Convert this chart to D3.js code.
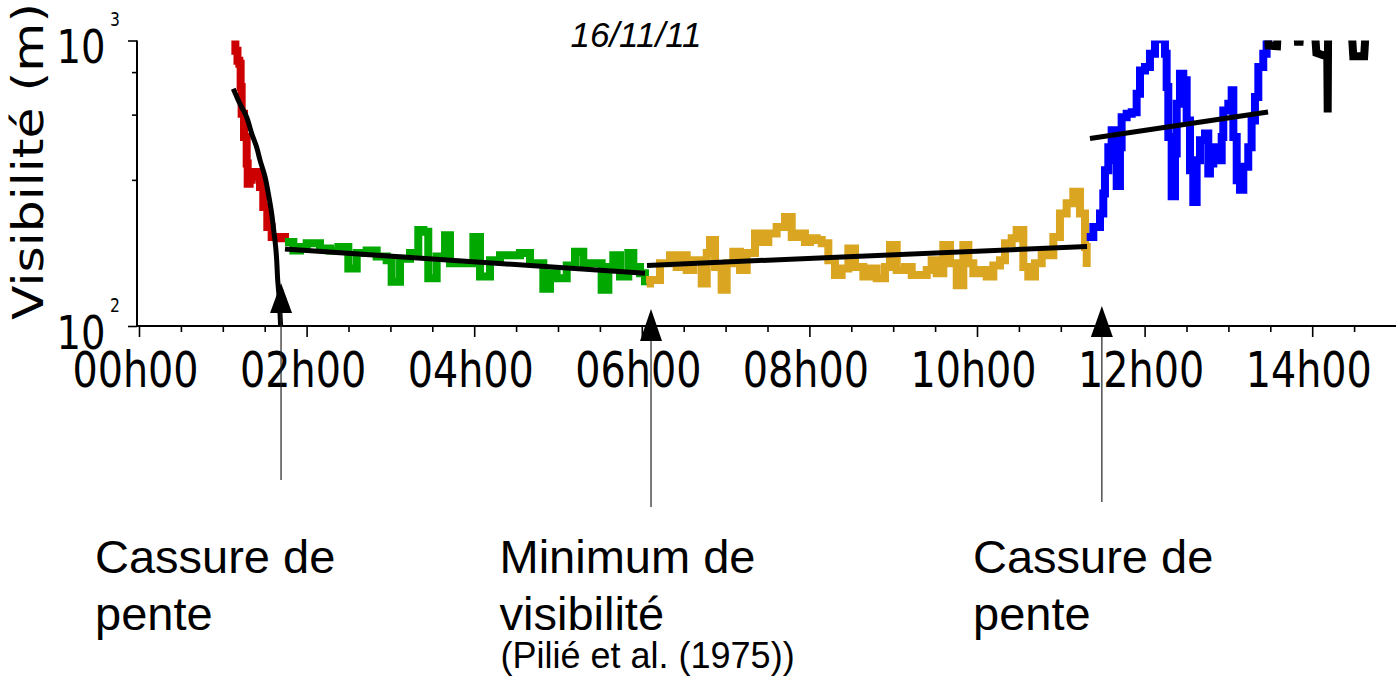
<!DOCTYPE html>
<html>
<head>
<meta charset="utf-8">
<script src="https://cdn.jsdelivr.net/npm/d3@7"></script>
<style>
  html, body { margin: 0; padding: 0; background: #fff; }
  svg { display: block; }
</style>
</head>
<body>
<svg id="chart" width="1398" height="688"></svg>
<script>
// Visibility record of 16/11/11: [time in decimal hours, visibility in metres]
const redSeries = [[1.134,1050],[1.150,920],[1.175,850],[1.197,829],[1.213,687],[1.225,554],[1.253,459],[1.285,371],[1.297,315],[1.320,325],[1.345,333],[1.380,346],[1.404,346],[1.444,307],[1.483,261],[1.531,222],[1.583,205],[1.663,203],[1.702,205],[1.742,197]];

const greenSeries = [[1.742,197],[1.842,184],[1.921,189],[2.001,195],[2.080,195],[2.160,187],[2.279,184],[2.379,189],[2.498,159],[2.598,180],[2.717,184],[2.836,175],[2.956,170],[3.015,143],[3.115,172],[3.234,180],[3.333,217],[3.393,214],[3.452,147],[3.552,175],[3.652,208],[3.711,166],[3.831,166],[3.990,205],[4.069,149],[4.189,170],[4.308,177],[4.467,177],[4.547,180],[4.666,166],[4.825,135],[4.905,153],[4.984,147],[5.104,163],[5.203,182],[5.302,166],[5.421,166],[5.521,134],[5.601,161],[5.660,177],[5.740,149],[5.839,180],[5.899,161],[5.979,153],[6.038,139]];

const goldSeries = [[6.058,141],[6.098,145],[6.217,166],[6.337,177],[6.416,161],[6.476,177],[6.536,157],[6.615,170],[6.715,141],[6.775,180],[6.814,200],[6.874,161],[6.953,134],[7.013,166],[7.092,182],[7.172,157],[7.252,180],[7.351,211],[7.431,197],[7.510,211],[7.609,222],[7.709,241],[7.789,205],[7.868,211],[7.947,197],[8.007,203],[8.087,200],[8.147,195],[8.226,170],[8.305,151],[8.385,159],[8.465,187],[8.544,161],[8.644,149],[8.723,159],[8.803,147],[8.902,161],[8.962,192],[9.042,157],[9.141,161],[9.221,151],[9.320,151],[9.400,157],[9.459,170],[9.519,153],[9.598,192],[9.678,166],[9.758,139],[9.837,192],[9.897,166],[9.956,153],[10.036,157],[10.116,149],[10.195,163],[10.274,170],[10.334,195],[10.414,203],[10.473,217],[10.553,161],[10.612,149],[10.692,166],[10.772,180],[10.851,177],[10.911,205],[10.990,248],[11.070,269],[11.149,295],[11.229,248],[11.289,189],[11.309,161]];

const blueSeries = [[11.309,205],[11.388,222],[11.468,248],[11.507,291],[11.527,351],[11.567,423],[11.607,485],[11.647,381],[11.667,309],[11.706,423],[11.726,539],[11.786,554],[11.846,561],[11.905,651],[11.945,785],[12.005,807],[12.064,898],[12.124,1010],[12.184,1010],[12.243,898],[12.263,687],[12.283,459],[12.323,285],[12.363,402],[12.383,601],[12.422,765],[12.462,725],[12.502,525],[12.542,351],[12.581,272],[12.621,381],[12.661,447],[12.721,472],[12.760,342],[12.780,371],[12.820,423],[12.860,381],[12.920,459],[12.939,569],[12.999,601],[13.039,669],[13.059,459],[13.099,324],[13.138,300],[13.178,361],[13.237,423],[13.277,525],[13.317,634],[13.357,807],[13.416,898],[13.456,973],[13.476,1010]];

// Late readings, mostly above the 1000 m ceiling of the axis
const blackSegments = [
  [[13.47,1100],[13.48,960],[13.58,955],[13.59,1100]],
  [[13.82,1100],[13.83,990],[13.85,990],[13.86,1100]],
  [[14.03,1100],[14.05,905],[14.12,890],[14.18,880],[14.185,560],[14.19,1100]],
  [[14.47,1100],[14.49,880],[14.62,880],[14.64,1100]]
];

// Fitted trends for each phase
const redFit = [[1.125,678],[1.205,600],[1.285,539],[1.345,472],[1.404,423],[1.444,381],[1.504,333],[1.543,291],[1.583,248],[1.603,222],[1.631,189],[1.643,170],[1.655,145],[1.671,127],[1.690,100]];
const greenFit = [[1.742,186],[6.038,153]];
const goldFit = [[6.062,163],[11.313,190]];
const blueFit = [[11.348,454],[13.473,562]];

// Axis ticks
const xMajorTicks = [0, 2, 4, 6, 8, 10, 12, 14];
const xMinorTicks = [0.5, 1, 1.5, 2.5, 3, 3.5, 4.5, 5, 5.5, 6.5, 7, 7.5, 8.5, 9, 9.5, 10.5, 11, 11.5, 12.5, 13, 13.5, 14.5];
const yMajorTicks = [100, 1000];
const yMinorTicks = [325, 550, 775];

// Marked instants (hours) and their captions
const markTimes = [1.695, 6.11, 11.49];
const markCaptions = [
  ["Cassure de", "pente"],
  ["Minimum de", "visibilité"],
  ["Cassure de", "pente"]
];
const markNote = "(Pilié et al. (1975))";
const titleText = "16/11/11";
const yTitle = "Visibilité (m)";

// ---------------------------------------------------------------
const svg = d3.select("#chart");
const axisFont = "'DejaVu Sans', sans-serif";
const textFont = "'Liberation Sans', Arial, sans-serif";

const x = d3.scaleLinear().domain([0, 15]).range([139, 1396]);
const y = d3.scaleLog().domain([100, 1000]).range([326, 40.5]);
const yAxisX = 137;
const xAxisY = y(100);

svg.append("defs").append("clipPath").attr("id", "plotArea")
  .append("rect")
  .attr("x", yAxisX).attr("y", y(1000))
  .attr("width", x.range()[1] - yAxisX)
  .attr("height", y(100) - y(1000));

// Recorded samples are drawn as a stepped trace
const stepLine = d3.line().x(d => x(d[0])).y(d => y(d[1])).curve(d3.curveStepAfter);
const plot = svg.append("g").attr("clip-path", "url(#plotArea)");

const seriesList = [
  [redSeries, "#cc0000"],
  [greenSeries, "#00a800"],
  [goldSeries, "#daa520"],
  [blueSeries, "#0000ff"]
];
seriesList.forEach(([data, color]) => {
  plot.append("path")
    .datum(data)
    .attr("d", stepLine)
    .attr("fill", "none")
    .attr("stroke", color)
    .attr("stroke-width", 8)
    .attr("stroke-linejoin", "miter")
    .attr("stroke-linecap", "butt");
});

const plainLine = d3.line().x(d => x(d[0])).y(d => y(d[1]));
blackSegments.forEach(seg => {
  plot.append("path")
    .datum(seg)
    .attr("d", plainLine)
    .attr("fill", "none")
    .attr("stroke", "#000")
    .attr("stroke-width", 8)
    .attr("stroke-linejoin", "miter")
    .attr("stroke-miterlimit", 2);
});

// Trend lines
const fitGroup = svg.append("g");
fitGroup.append("path")
  .datum(redFit)
  .attr("d", d3.line().x(d => x(d[0])).y(d => y(d[1])).curve(d3.curveCatmullRom))
  .attr("fill", "none").attr("stroke", "#000").attr("stroke-width", 5);
[greenFit, goldFit, blueFit].forEach(fit => {
  fitGroup.append("path")
    .datum(fit)
    .attr("d", plainLine)
    .attr("fill", "none").attr("stroke", "#000").attr("stroke-width", 5);
});

// Axes
const axisColor = "#000";
svg.append("line")
  .attr("x1", yAxisX).attr("x2", x.range()[1])
  .attr("y1", xAxisY).attr("y2", xAxisY)
  .attr("stroke", axisColor).attr("stroke-width", 2);
svg.append("line")
  .attr("x1", yAxisX).attr("x2", yAxisX)
  .attr("y1", y(1000)).attr("y2", xAxisY)
  .attr("stroke", axisColor).attr("stroke-width", 2);

const xMajor = svg.append("g")
  .attr("transform", `translate(0,${xAxisY})`)
  .call(d3.axisBottom(x).tickValues(xMajorTicks).tickSize(11)
    .tickFormat(h => d3.format("02d")(h) + "h00"));
xMajor.select(".domain").remove();
xMajor.selectAll(".tick line").attr("stroke", axisColor).attr("stroke-width", 1.6);
xMajor.selectAll(".tick text")
  .attr("y", null).attr("dy", null)
  .attr("transform", "translate(-4,61) scale(0.81,1)")
  .attr("font-family", axisFont)
  .attr("font-size", 49)
  .attr("fill", "#000");

const xMinor = svg.append("g")
  .attr("transform", `translate(0,${xAxisY})`)
  .call(d3.axisBottom(x).tickValues(xMinorTicks).tickSize(6).tickFormat(""));
xMinor.select(".domain").remove();
xMinor.selectAll(".tick line").attr("stroke", axisColor).attr("stroke-width", 1.6);

const yMajor = svg.append("g")
  .attr("transform", `translate(${yAxisX},0)`)
  .call(d3.axisLeft(y).tickValues(yMajorTicks).tickSize(9).tickFormat(""));
yMajor.select(".domain").remove();
yMajor.selectAll(".tick line").attr("stroke", axisColor).attr("stroke-width", 1.6);

const yMinor = svg.append("g")
  .attr("transform", `translate(${yAxisX},0)`)
  .call(d3.axisLeft(y).tickValues(yMinorTicks).tickSize(5).tickFormat(""));
yMinor.select(".domain").remove();
yMinor.selectAll(".tick line").attr("stroke", axisColor).attr("stroke-width", 1.6);

// Power-of-ten labels
yMajorTicks.forEach(v => {
  const ty = y(v);
  svg.append("text")
    .attr("transform", `translate(${yAxisX - 31.4},${ty + 22.5}) scale(0.82,1)`)
    .attr("text-anchor", "end")
    .attr("font-family", axisFont).attr("font-size", 47)
    .text("10");
  svg.append("text")
    .attr("transform", `translate(${yAxisX - 27},${ty - 14.5}) scale(0.82,1)`)
    .attr("text-anchor", "start")
    .attr("font-family", axisFont).attr("font-size", 19)
    .text(String(Math.round(Math.log10(v))));
});

// Axis title
svg.append("text")
  .attr("transform", "translate(43.3,320) rotate(-90) scale(1.16,1)")
  .attr("text-anchor", "start")
  .attr("font-family", axisFont).attr("font-size", 43.5)
  .text(yTitle);

// Date title
svg.append("text")
  .attr("x", 636).attr("y", 47)
  .attr("text-anchor", "middle")
  .attr("font-family", textFont).attr("font-style", "italic")
  .attr("font-size", 35)
  .text(titleText);

// Arrows marking the phase changes
const arrowLayout = [
  { tip: 283, base: 313, stemEnd: 480 },
  { tip: 309, base: 341, stemEnd: 507 },
  { tip: 306, base: 337, stemEnd: 502 }
];
markTimes.forEach((t, i) => {
  const cx = x(t);
  const a = arrowLayout[i];
  svg.append("line")
    .attr("x1", cx).attr("x2", cx)
    .attr("y1", a.base).attr("y2", a.stemEnd)
    .attr("stroke", "#222").attr("stroke-width", 1.2);
  svg.append("path")
    .attr("d", `M${cx},${a.tip}L${cx - 11},${a.base}L${cx + 11},${a.base}Z`)
    .attr("fill", "#000");
});

// Captions
const captionX = [95, 499.5, 973];
markCaptions.forEach((lines, i) => {
  lines.forEach((s, j) => {
    svg.append("text")
      .attr("x", captionX[i]).attr("y", 573 + j * 56.5)
      .attr("font-family", textFont).attr("font-size", 47)
      .text(s);
  });
});
svg.append("text")
  .attr("x", captionX[1] + 1).attr("y", 668)
  .attr("font-family", textFont).attr("font-size", 36)
  .text(markNote);
</script>
</body>
</html>
